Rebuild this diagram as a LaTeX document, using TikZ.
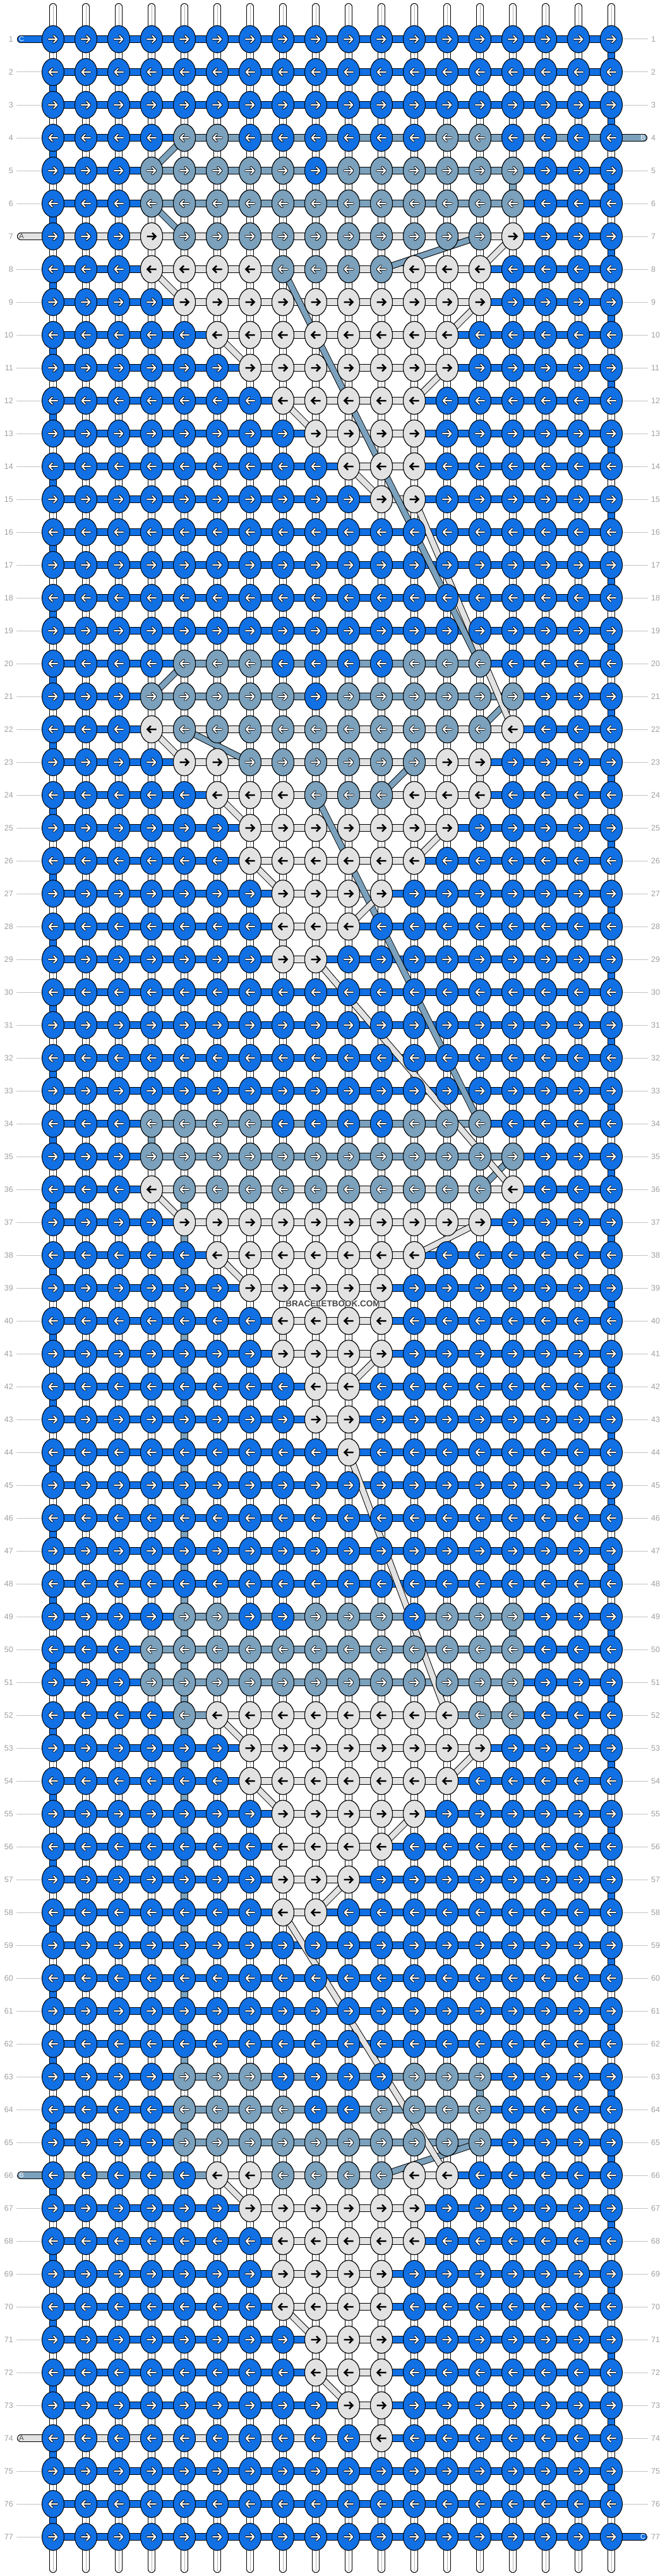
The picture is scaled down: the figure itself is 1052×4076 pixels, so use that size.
\documentclass[tikz,border=0pt]{standalone}
\usepackage{fontspec}
\setmainfont{Liberation Sans}
\definecolor{cC}{HTML}{1170E4}
\definecolor{cB}{HTML}{7BA1BC}
\definecolor{cA}{HTML}{E2E2E2}
\definecolor{lbl}{HTML}{A0A0A0}
\definecolor{lline}{HTML}{C4C4C4}
\tikzset{
  outl/.style={draw=black,line width=11.5},
  fillC/.style={draw=cC,line width=9.5},
  fillB/.style={draw=cB,line width=9.5},
  fillA/.style={draw=cA,line width=9.5},
  dout/.style={draw=black,line width=10.5},
  dB/.style={draw=cB,line width=8.5},
  dA/.style={draw=cA,line width=8.5},
  numlbl/.style={text=lbl,inner sep=0pt,font=\fontsize{12.5}{14}\selectfont},
  taillbl/.style={inner sep=0pt,font=\fontsize{11}{12}\selectfont},
}
\newcommand\knot[5]{%
  \filldraw[fill=#4,draw=black,line width=1] (#1,#2) ellipse [x radius=17.5,y radius=21.5];
  \begin{scope}[shift={(#1,#2)},xscale=#3]
  \ifx#5W
    \draw[black,line width=3.9,line cap=round,line join=round] (-7,0)--(6,0) (1,-5.5)--(6.5,0)--(1,5.5);
    \draw[white,line width=2.1,line cap=round,line join=round] (-7,0)--(6,0) (1,-5.5)--(6.5,0)--(1,5.5);
  \else
    \draw[black,line width=2.5,line join=miter] (-7.5,0)--(6,0) (1,-5.5)--(6.5,0)--(1,5.5);
  \fi
  \end{scope}}
\begin{document}
\begin{tikzpicture}[x=1pt,y=-1pt]
\useasboundingbox (0,0) rectangle (1052,4076);
\fill[white] (0,0) rectangle (1052,4076);
% vertical white strings
\foreach \c in {1,...,18}{
  \pgfmathsetmacro\xx{32+52*\c}
  \draw[black,line width=11.5,line cap=round] (\xx,10.75)--(\xx,4065.25);
  \draw[white,line width=9.5,line cap=round] (\xx,10.75)--(\xx,4065.25);
  \draw[lbl!80,line width=0.8] (\xx,8)--(\xx,4068);
}
% coloured vertical segments
\foreach \r in {2,4,...,76}{
  \draw[outl] (84,{10+52*\r})--(84,{62+52*\r});
  \draw[fillC] (84,{10+52*\r})--(84,{62+52*\r});
}
\foreach \r in {1,3,...,75}{
  \draw[outl] (968,{10+52*\r})--(968,{62+52*\r});
  \draw[fillC] (968,{10+52*\r})--(968,{62+52*\r});
}
\foreach \c/\r in {15/5,15/49,15/51,4/34,4/50,5/64,14/63,5/36,5/37,5/38,5/39,5/40,5/41,5/42,5/43,5/44,5/45,5/46,5/47,5/48,5/49,5/50,5/51,5/52,5/53,5/54,5/55,5/56,5/57,5/58,5/59,5/60,5/61,5/62}{
  \draw[outl] ({32+52*\c},{10+52*\r})--({32+52*\c},{62+52*\r});
  \draw[fillB] ({32+52*\c},{10+52*\r})--({32+52*\c},{62+52*\r});
}
\foreach \c/\r in {12/13,14/23,8/28,11/39,8/40,9/42,10/43,8/56,12/67,8/68,11/69,11/71,11/73}{
  \draw[outl] ({32+52*\c},{10+52*\r})--({32+52*\c},{62+52*\r});
  \draw[fillA] ({32+52*\c},{10+52*\r})--({32+52*\c},{62+52*\r});
}
% horizontal bars
\foreach \r in {1,...,77}{
  \draw[outl] (84,{10+52*\r})--(968,{10+52*\r});
  \draw[fillC] (84,{10+52*\r})--(968,{10+52*\r});
}
\foreach \r/\a/\b in {4/5/18,5/4/15,6/4/15,20/5/14,21/4/15,34/4/14,35/4/15,49/5/15,50/4/15,51/4/15,52/5/6,52/13/15,63/5/14,64/5/14,65/5/14,66/1/6}{
  \draw[outl] ({32+52*\a},{10+52*\r})--({32+52*\b},{10+52*\r});
  \draw[fillB] ({32+52*\a},{10+52*\r})--({32+52*\b},{10+52*\r});
}
\foreach \r/\a/\b in {7/1/15,8/4/14,9/5/14,10/6/13,11/7/13,12/8/12,13/9/12,14/10/12,15/11/12,22/4/15,23/5/14,24/6/14,25/7/13,26/7/12,27/8/11,28/8/10,29/8/9,36/4/15,37/5/14,38/6/12,39/7/11,40/8/11,41/8/11,42/9/10,43/9/10,52/6/13,53/7/14,54/7/13,55/8/12,56/8/11,57/8/10,58/8/9,66/6/13,67/7/12,68/8/12,69/8/11,70/8/11,71/9/11,72/9/11,73/10/11,74/1/11}{
  \draw[outl] ({32+52*\a},{10+52*\r})--({32+52*\b},{10+52*\r});
  \draw[fillA] ({32+52*\a},{10+52*\r})--({32+52*\b},{10+52*\r});
}
% tails
\draw[outl,line cap=round] (32.75,62)--(84,62);   \draw[fillC,line cap=round] (32.75,62)--(84,62);
\node[taillbl,text=white] (tC1) at (34,62) {C};
\draw[outl,line cap=round] (968,218)--(1019.25,218); \draw[fillB,line cap=round] (968,218)--(1019.25,218);
\node[taillbl,text=white] (tB4) at (1018,218) {B};
\draw[outl,line cap=round] (32.75,374)--(84,374); \draw[fillA,line cap=round] (32.75,374)--(84,374);
\node[taillbl,text=black!70] (tA7) at (34,374) {A};
\draw[outl,line cap=round] (32.75,3442)--(84,3442); \draw[fillB,line cap=round] (32.75,3442)--(84,3442);
\node[taillbl,text=white] (tB66) at (34,3442) {B};
\draw[outl,line cap=round] (32.75,3858)--(84,3858); \draw[fillA,line cap=round] (32.75,3858)--(84,3858);
\node[taillbl,text=black!70] (tA74) at (34,3858) {A};
\draw[outl,line cap=round] (968,4014)--(1019.25,4014); \draw[fillC,line cap=round] (968,4014)--(1019.25,4014);
\node[taillbl,text=white] (tC77) at (1018,4014) {C};
% diagonals
\foreach \ca/\ra/\cb/\rb in {5/4/4/5,4/6/5/7,14/7/11/8,8/8/14/20,5/20/4/21,15/21/14/22,5/22/7/23,12/23/11/24,9/24/14/34,15/35/14/36,14/65/11/66}{
  \draw[dout] ({32+52*\ca},{10+52*\ra})--({32+52*\cb},{10+52*\rb});
  \draw[dB] ({32+52*\ca},{10+52*\ra})--({32+52*\cb},{10+52*\rb});
}
\foreach \ca/\ra/\cb/\rb in {15/7/14/8,4/8/5/9,14/9/13/10,6/10/7/11,13/11/12/12,8/12/9/13,10/14/11/15,12/15/15/22,4/22/5/23,6/24/7/25,13/25/12/26,7/26/8/27,11/27/10/28,9/29/15/36,4/36/5/37,14/37/12/38,6/38/7/39,11/41/10/42,10/44/13/52,6/52/7/53,14/53/13/54,7/54/8/55,12/55/11/56,10/57/9/58,8/58/13/66,6/66/7/67,8/70/9/71,9/72/10/73}{
  \draw[dout] ({32+52*\ca},{10+52*\ra})--({32+52*\cb},{10+52*\rb});
  \draw[dA] ({32+52*\ca},{10+52*\ra})--({32+52*\cb},{10+52*\rb});
}
% knots
\foreach \r in {1,...,77}{
  \pgfmathsetmacro\yy{10+52*\r}
  \pgfmathsetmacro\dd{2*mod(\r,2)-1}
  \foreach \c in {1,...,18}{
    \pgfmathsetmacro\xx{32+52*\c}
    \knot{\xx}{\yy}{\dd}{cC}{W}
  }
}
\foreach \r/\a/\b in {4/5/6,4/13/14,5/4/8,5/10/15,6/4/15,7/5/14,8/8/11,20/5/7,20/12/14,21/4/8,21/10/15,22/5/14,23/7/12,24/9/11,34/4/7,34/12/14,35/4/15,36/5/14,49/5/6,49/9/11,49/13/15,50/4/15,51/4/15,52/5/5,52/14/15,63/5/7,63/12/14,64/5/8,64/11/14,65/5/14,66/8/11}{
  \pgfmathsetmacro\yy{10+52*\r}
  \pgfmathsetmacro\dd{2*mod(\r,2)-1}
  \foreach \c in {\a,...,\b}{
    \pgfmathsetmacro\xx{32+52*\c}
    \knot{\xx}{\yy}{\dd}{cB}{W}
  }
}
\foreach \r/\a/\b in {7/4/4,7/15/15,8/4/7,8/12/14,9/5/14,10/6/13,11/7/13,12/8/12,13/9/12,14/10/12,15/11/12,22/4/4,22/15/15,23/5/6,23/13/14,24/6/8,24/12/14,25/7/13,26/7/12,27/8/11,28/8/10,29/8/9,36/4/4,36/15/15,37/5/14,38/6/12,39/7/11,40/8/11,41/8/11,42/9/10,43/9/10,44/10/10,52/6/13,53/7/14,54/7/13,55/8/12,56/8/11,57/8/10,58/8/9,66/6/7,66/12/13,67/7/12,68/8/12,69/8/11,70/8/11,71/9/11,72/9/11,73/10/11,74/11/11}{
  \pgfmathsetmacro\yy{10+52*\r}
  \pgfmathsetmacro\dd{2*mod(\r,2)-1}
  \foreach \c in {\a,...,\b}{
    \pgfmathsetmacro\xx{32+52*\c}
    \knot{\xx}{\yy}{\dd}{cA}{K}
  }
}
% row labels
\foreach \r in {1,...,77}{
  \pgfmathsetmacro\yy{10+52*\r}
  \node[numlbl,anchor=east] (nl\r) at (21,\yy) {\r};
  \node[numlbl,anchor=west] (nr\r) at (1031,\yy) {\r};
  \pgfmathtruncatemacro\tl{(\r==1)||(\r==7)||(\r==66)||(\r==74)}
  \pgfmathtruncatemacro\tr{(\r==4)||(\r==77)}
  \ifnum\tl=0 \draw[lline,line width=1] (26,\yy)--(66,\yy); \fi
  \ifnum\tr=0 \draw[lline,line width=1] (986,\yy)--(1026,\yy); \fi
}
% watermark
\foreach \dx/\dy in {-0.9/0,0.9/0,0/-0.9,0/0.9}{
  \node[font=\bfseries\fontsize{13.5}{15}\selectfont,text=white,inner sep=0pt] at (527+\dx,2063+\dy) {BRACELETBOOK.COM};
}
\node[font=\bfseries\fontsize{13.5}{15}\selectfont,text=black!72,inner sep=0pt] (wm) at (527,2063) {BRACELETBOOK.COM};
\end{tikzpicture}
\end{document}
